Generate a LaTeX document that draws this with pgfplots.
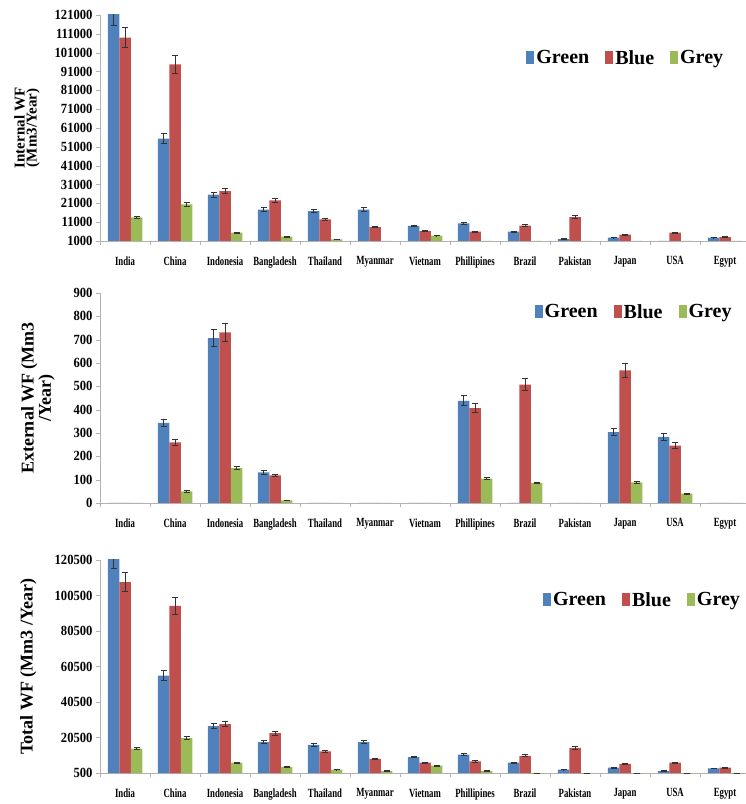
\documentclass[border=0pt]{standalone}
\usepackage{fontspec}
\setmainfont{Liberation Serif}
\usepackage{graphicx}
\usepackage{pgfplots}
\usepackage{pgfplotstable}
\pgfplotsset{compat=1.18}
\definecolor{cG}{HTML}{4F81BD}
\definecolor{cB}{HTML}{C0504D}
\definecolor{cY}{HTML}{9BBB59}
\newcommand{\sq}[1]{\scalebox{0.7}[1]{#1}}
\newcommand{\sy}[1]{\scalebox{0.9}[1]{#1}}

% Internal WF
\pgfplotstableread{
x g ge b be y ye
0 121500 6000 109000 5400 13500 700
1 55400 2800 94800 4700 20500 1000
2 25600 1300 27500 1400 5500 300
3 17700 900 22600 1100 3300 200
4 16800 800 12500 600 1800 100
5 17700 900 8400 400 0 0
6 9000 450 6300 300 3900 200
7 10400 500 6000 300 0 0
8 6000 300 9200 460 0 0
9 2000 100 13700 700 0 0
10 2800 140 4400 220 0 0
11 0 0 5500 280 0 0
12 2800 140 3100 160 0 0
}\internal

% External WF
\pgfplotstableread{
x g ge b be y ye
0 0 0 0 0 0 0
1 343 17 260 13 50 3
2 707 35 731 37 150 8
3 131 7 118 6 11 1
4 0 0 0 0 0 0
5 0 0 0 0 0 0
6 0 0 0 0 0 0
7 438 22 407 20 104 5
8 0 0 507 25 86 4
9 0 0 0 0 0 0
10 304 15 568 28 88 4
11 283 14 246 12 40 2
12 0 0 0 0 0 0
}\external

% Total WF
\pgfplotstableread{
x g ge b be y ye
0 121500 6000 108000 5400 14200 700
1 55400 2800 94600 4700 20200 1000
2 26900 1300 28100 1400 6300 300
3 17900 900 23000 1100 3900 200
4 16400 800 12650 600 2400 120
5 17900 900 8400 400 1600 80
6 9500 450 6300 300 4600 230
7 10800 500 7000 350 1600 80
8 6300 300 10200 500 0 0
9 2400 120 14600 700 0 0
10 3500 170 5700 280 0 0
11 1600 80 6300 300 0 0
12 3100 150 3500 170 0 0
}\total

\pgfplotsset{
  wf/.style={
    scale only axis, width=646pt,
    ybar=0pt, bar width=11.5pt,
    xmin=-0.5, xmax=12.42,
    axis x line*=bottom, axis y line*=left,
    axis line style={-, draw=gray!60},
    tick align=outside, major tick length=4pt,
    tick style={draw=gray!60},
    scaled y ticks=false,
    xtick={-0.5,0.5,...,12.5}, xticklabels={},
    extra x ticks={0,1,...,12},
    extra x tick labels={\sq{India},\sq{China},\sq{Indonesia},\sq{Bangladesh},\sq{Thailand},\sq{Myanmar},\sq{Vietnam},\sq{Phillipines},\sq{Brazil},\sq{Pakistan},\sq{Japan},\sq{USA},\sq{Egypt}},
    extra x tick style={major tick length=0pt, tick style={draw=none}},
    xticklabel style={font=\bfseries\fontsize{12.5}{13}\selectfont, yshift=-12pt},
    yticklabel style={font=\bfseries\fontsize{14}{15}\selectfont},
    ylabel style={align=center, anchor=center},
    legend columns=3,
    legend image code/.code={\fill[##1] (0pt,-6pt) rectangle (8pt,7pt);},
    legend style={draw=none, fill=none, anchor=west,
      font=\bfseries\fontsize{20}{22}\selectfont,
      /tikz/every even column/.append style={column sep=14pt}},
  },
  ebar/.style={draw=none, fill=#1,
    error bars/y dir=both, error bars/y explicit,
    error bars/error bar style={line width=0.9pt, black!80},
    error bars/error mark options={rotate=90, mark size=3pt, line width=0.9pt, black!80}},
}

\begin{document}
\begin{tikzpicture}
% Panel 1
\begin{axis}[wf, at={(100pt,563pt)}, anchor=south west, height=226pt,
  ymin=1000, ymax=121000,
  ytick={1000,11000,21000,31000,41000,51000,61000,71000,81000,91000,101000,111000,121000},
  yticklabels={\sy{1000},\sy{11000},\sy{21000},\sy{31000},\sy{41000},\sy{51000},\sy{61000},\sy{71000},\sy{81000},\sy{91000},\sy{101000},\sy{111000},\sy{121000}},
  ylabel={\bfseries\fontsize{15}{16}\selectfont Internal WF\\\bfseries\fontsize{15}{16}\selectfont (Mm3/Year)},
  ylabel style={at={(axis description cs:-0.113,0.5)}},
  legend style={at={(axis description cs:0.655,0.81)}},
]
\addplot[ebar=cG] table[x=x, y=g, y error=ge]{\internal};
\addplot[ebar=cB] table[x=x, y=b, y error=be]{\internal};
\addplot[ebar=cY] table[x=x, y=y, y error=ye]{\internal};
\legend{Green,Blue,Grey}
\end{axis}
% Panel 2
\begin{axis}[wf, at={(100pt,301pt)}, anchor=south west, height=210pt,
  ymin=0, ymax=900,
  ytick={0,100,...,900},
  yticklabels={\sy{0},\sy{100},\sy{200},\sy{300},\sy{400},\sy{500},\sy{600},\sy{700},\sy{800},\sy{900}},
  ylabel={\bfseries\fontsize{18}{19}\selectfont External WF (Mm3\\\bfseries\fontsize{18}{19}\selectfont /Year)},
  ylabel style={at={(axis description cs:-0.096,0.5)}},
  legend style={at={(axis description cs:0.668,0.91)}},
]
\addplot[ebar=cG] table[x=x, y=g, y error=ge]{\external};
\addplot[ebar=cB] table[x=x, y=b, y error=be]{\external};
\addplot[ebar=cY] table[x=x, y=y, y error=ye]{\external};
\legend{Green,Blue,Grey}
\end{axis}
% Panel 3
\begin{axis}[wf, at={(100pt,31pt)}, anchor=south west, height=213pt,
  ymin=500, ymax=120500,
  ytick={500,20500,40500,60500,80500,100500,120500},
  yticklabels={\sy{500},\sy{20500},\sy{40500},\sy{60500},\sy{80500},\sy{100500},\sy{120500}},
  ylabel={\bfseries\fontsize{18}{19}\selectfont Total WF (Mm3 /Year)},
  ylabel style={at={(axis description cs:-0.111,0.5)}},
  legend style={at={(axis description cs:0.681,0.812)}},
]
\addplot[ebar=cG] table[x=x, y=g, y error=ge]{\total};
\addplot[ebar=cB] table[x=x, y=b, y error=be]{\total};
\addplot[ebar=cY] table[x=x, y=y, y error=ye]{\total};
\legend{Green,Blue,Grey}
\end{axis}
\pgfresetboundingbox
\path (0pt,0pt) rectangle (746pt,804pt);
\end{tikzpicture}
\end{document}
